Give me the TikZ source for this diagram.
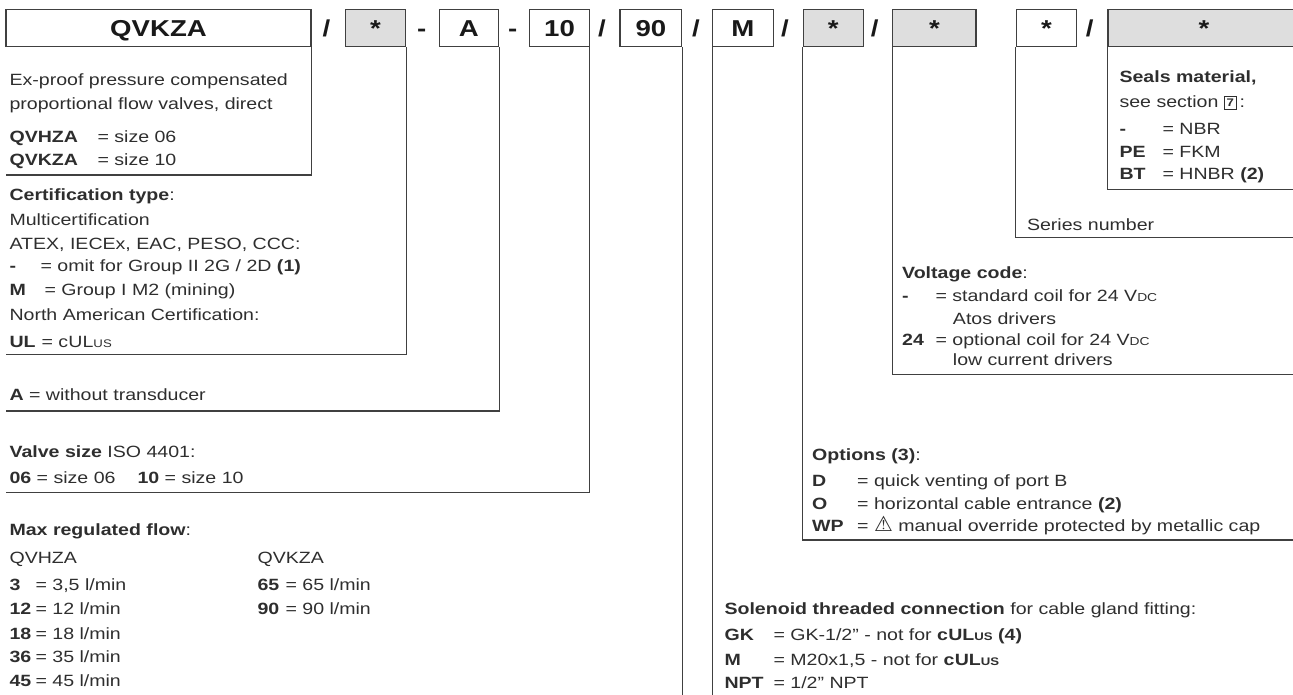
\documentclass[tikz,border=0pt]{standalone}
\usepackage{fontspec}
\setmainfont{Liberation Sans}[FakeStretch=1.2]
\newfontfamily\headfont{Liberation Sans}[FakeStretch=1.2]
\newfontfamily\symfont{DejaVu Sans}
\newcommand{\culus}{c\kern.3pt UL{\fontsize{11}{11}\selectfont US}}
\newcommand{\vdc}{V{\fontsize{11.5}{11.5}\selectfont DC}}
\newcommand{\secbox}[1]{{\setlength{\fboxsep}{2pt}\setlength{\fboxrule}{0.8pt}\raisebox{1pt}{\fbox{\fontsize{11}{11}\selectfont\bfseries #1}}}}
\begin{document}
\begin{tikzpicture}[x=1pt, y=-1pt, line width=1.1pt,
    codebox/.style={draw=black!75, minimum height=37pt, inner sep=0pt, text height=16.5pt, text depth=0pt, font=\headfont\bfseries\fontsize{23}{23}\selectfont, text=black!90},
    graybox/.style={codebox, fill=black!13},
    sep/.style={inner sep=0pt, text height=16.5pt, text depth=0pt, font=\headfont\bfseries\fontsize{23}{23}\selectfont, text=black!90},
    txt/.style={anchor=west, inner sep=0pt, text height=11.7pt, text depth=0pt, font=\fontsize{16.3}{19}\selectfont, text=black!82},
    leg/.style={draw=black!75}]
    \useasboundingbox (0,0) rectangle (1293,695);

    % Code boxes
    \node (code) [codebox, minimum width=305pt] at (158.5,28) {QVKZA};
    \node (s1) [sep] at (326.5,28) {/};
    \node (cert) [graybox, minimum width=60.7pt] at (375.4,28) {*};
    \node (s2) [sep] at (421.7,28) {-};
    \node (trans) [codebox, minimum width=59.7pt] at (468.9,28) {A};
    \node (s3) [sep] at (512.7,28) {-};
    \node (size) [codebox, minimum width=59.6pt] at (559.5,28) {10};
    \node (s4) [sep] at (602,28) {/};
    \node (flow) [codebox, minimum width=61.8pt] at (650.9,28) {90};
    \node (s5) [sep] at (696,28) {/};
    \node (conn) [codebox, minimum width=60.3pt] at (742.9,28) {M};
    \node (s6) [sep] at (785,28) {/};
    \node (opt) [graybox, minimum width=59.8pt] at (833.3,28) {*};
    \node (s7) [sep] at (874.7,28) {/};
    \node (volt) [graybox, minimum width=83.2pt] at (934.4,28) {*};
    \node (series) [codebox, minimum width=60.3pt] at (1046.4,28) {*};
    \node (s8) [sep] at (1089.6,28) {/};
    \node (seals) [graybox, minimum width=192pt] at (1204,28) {*};

    % Leg ends
    \coordinate (bottom) at (0,700);
    \coordinate (codeEnd) at (6,175);
    \coordinate (certEnd) at (6,354.3);
    \coordinate (transEnd) at (6,411);
    \coordinate (sizeEnd) at (6,492.7);
    \coordinate (flowEnd) at (flow.south east |- bottom);
    \coordinate (connEnd) at (conn.south west |- bottom);
    \coordinate (optEnd) at (1293,540);
    \coordinate (voltEnd) at (1293,374.5);
    \coordinate (seriesEnd) at (1293,237.3);
    \coordinate (sealsEnd) at (1293,189.3);

    % Legs
    \draw[leg] (code.south east) |- (codeEnd);
    \draw[leg] (cert.south east) |- (certEnd);
    \draw[leg] (trans.south east) |- (transEnd);
    \draw[leg] (size.south east) |- (sizeEnd);
    \draw[leg] (flow.south east) -- (flowEnd);
    \draw[leg] (conn.south west) -- (connEnd);
    \draw[leg] (opt.south west) |- (optEnd);
    \draw[leg] (volt.south west) |- (voltEnd);
    \draw[leg] (series.south west) |- (seriesEnd);
    \draw[leg] (seals.south west) |- (sealsEnd);

    % Valve
    \node (d1) [txt] at (9,80) {Ex-proof pressure compensated};
    \node (d2) [txt] at (9,103.5) {proportional flow valves, direct};
    \node (d3l) [txt] at (9,136.5) {\bfseries QVHZA};
    \node (d3r) [txt] at (97,136.5) {= size 06};
    \node (d4l) [txt] at (9,159.5) {\bfseries QVKZA};
    \node (d4r) [txt] at (97,159.5) {= size 10};

    % Certification
    \node (c1) [txt] at (9,195) {\textbf{Certification type}:};
    \node (c2) [txt] at (9,220) {Multicertification};
    \node (c3) [txt] at (9,243.3) {ATEX, IECEx, EAC, PESO, CCC:};
    \node (c4l) [txt] at (9,266) {\bfseries -};
    \node (c4r) [txt] at (40,266) {= omit for Group II 2G / 2D \textbf{(1)}};
    \node (c5l) [txt] at (9,289.3) {\bfseries M};
    \node (c5r) [txt] at (44,289.3) {= Group I M2 (mining)};
    \node (c6) [txt] at (9,315) {North American Certification:};
    \node (c7l) [txt] at (9,341.7) {\bfseries UL};
    \node (c7r) [txt] at (41,341.7) {= \culus};

    % Transducer, size
    \node (a1) [txt] at (9,395) {\textbf{A} = without transducer};
    \node (v1) [txt] at (9,451.7) {\textbf{Valve size} ISO 4401:};
    \node (v2) [txt] at (9,477.3) {\textbf{06} = size 06};
    \node (v3) [txt] at (137,477.3) {\textbf{10} = size 10};

    % Flow
    \node (f0) [txt] at (9,530) {\textbf{Max regulated flow}:};
    \node (f1) [txt] at (9,557.3) {QVHZA};
    \node (f2) [txt] at (257,557.3) {QVKZA};
    \node (f3l) [txt] at (9,585) {\bfseries 3};
    \node (f3r) [txt] at (35,585) {= 3,5 l/min};
    \node (f4l) [txt] at (9,609) {\bfseries 12};
    \node (f4r) [txt] at (35,609) {= 12 l/min};
    \node (f5l) [txt] at (9,633.3) {\bfseries 18};
    \node (f5r) [txt] at (35,633.3) {= 18 l/min};
    \node (f6l) [txt] at (9,656.7) {\bfseries 36};
    \node (f6r) [txt] at (35,656.7) {= 35 l/min};
    \node (f7l) [txt] at (9,681) {\bfseries 45};
    \node (f7r) [txt] at (35,681) {= 45 l/min};
    \node (f8l) [txt] at (257,585) {\bfseries 65};
    \node (f8r) [txt] at (285,585) {= 65 l/min};
    \node (f9l) [txt] at (257,609) {\bfseries 90};
    \node (f9r) [txt] at (285,609) {= 90 l/min};

    % Solenoid connection
    \node (g1) [txt] at (724,608.3) {\textbf{Solenoid threaded connection} for cable gland fitting:};
    \node (g2l) [txt] at (724,635) {\bfseries GK};
    \node (g2r) [txt] at (773,635) {= GK-1/2” - not for \textbf{\culus\ (4)}};
    \node (g3l) [txt] at (724,659.3) {\bfseries M};
    \node (g3r) [txt] at (773,659.3) {= M20x1,5 - not for \textbf{\culus}};
    \node (g4l) [txt] at (724,682.7) {\bfseries NPT};
    \node (g4r) [txt] at (773,682.7) {= 1/2” NPT};

    % Options
    \node (o1) [txt] at (811.6,455) {\textbf{Options (3)}:};
    \node (o2l) [txt] at (811.6,480.7) {\bfseries D};
    \node (o2r) [txt] at (856.6,480.7) {= quick venting of port B};
    \node (o3l) [txt] at (811.6,503.3) {\bfseries O};
    \node (o3r) [txt] at (856.6,503.3) {= horizontal cable entrance \textbf{(2)}};
    \node (o4l) [txt] at (811.6,525.7) {\bfseries WP};
    \node (o4r) [txt] at (856.6,525.7) {= {\symfont\fontsize{21}{21}\selectfont ⚠} manual override protected by metallic cap};

    % Voltage
    \node (u1) [txt] at (901.6,272.7) {\textbf{Voltage code}:};
    \node (u2l) [txt] at (901.6,296) {\bfseries -};
    \node (u2r) [txt] at (935,296) {= standard coil for 24 \vdc};
    \node (u3) [txt] at (952.4,318.3) {Atos drivers};
    \node (u4l) [txt] at (901.6,339.3) {\bfseries 24};
    \node (u4r) [txt] at (935,339.3) {= optional coil for 24 \vdc};
    \node (u5) [txt] at (952.4,360) {low current drivers};

    % Series, seals
    \node (n1) [txt] at (1026.5,225) {Series number};
    \node (m1) [txt] at (1119,76.7) {\bfseries Seals material,};
    \node (m2) [txt] at (1119,101.7) {see section \secbox{7}\,:};
    \node (m3l) [txt] at (1119,128.3) {\bfseries -};
    \node (m3r) [txt] at (1162,128.3) {= NBR};
    \node (m4l) [txt] at (1119,151.7) {\bfseries PE};
    \node (m4r) [txt] at (1162,151.7) {= FKM};
    \node (m5l) [txt] at (1119,173.3) {\bfseries BT};
    \node (m5r) [txt] at (1162,173.3) {= HNBR \textbf{(2)}};
\end{tikzpicture}
\end{document}
